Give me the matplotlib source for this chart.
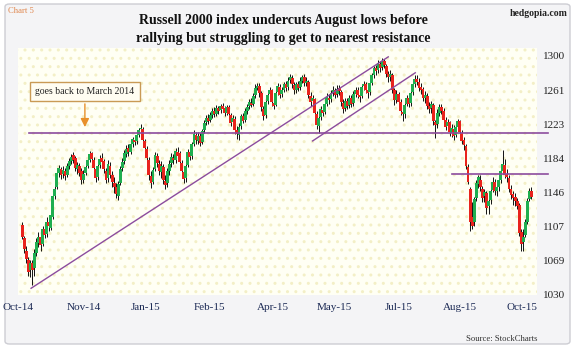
import numpy as np
import matplotlib
matplotlib.use("Agg")
import matplotlib.pyplot as plt
from matplotlib.patches import Rectangle, FancyBboxPatch

# daily candles, Oct-2014 .. Oct-2015
opens = [1109, 1094, 1080, 1070, 1058, 1066, 1060, 1078, 1089, 1095, 1088, 1104, 1099, 1112, 1106, 1118, 1142, 1152,
         1168, 1172, 1167, 1170, 1165, 1176, 1181, 1188, 1185, 1172, 1176, 1170, 1160, 1168, 1176, 1183, 1190, 1183,
         1172, 1163, 1177, 1185, 1181, 1170, 1162, 1176, 1165, 1157, 1152, 1142, 1157, 1173, 1181, 1189, 1196, 1191,
         1200, 1205, 1204, 1211, 1217, 1218, 1204, 1195, 1183, 1164, 1158, 1172, 1187, 1178, 1169, 1175, 1159, 1156,
         1170, 1179, 1185, 1182, 1192, 1190, 1179, 1169, 1162, 1177, 1191, 1187, 1201, 1211, 1204, 1210, 1203, 1216,
         1225, 1230, 1228, 1233, 1238, 1235, 1241, 1239, 1243, 1241, 1236, 1242, 1233, 1225, 1229, 1216, 1211, 1221,
         1232, 1228, 1238, 1243, 1247, 1246, 1256, 1264, 1266, 1258, 1240, 1233, 1249, 1257, 1261, 1247, 1245, 1259,
         1265, 1257, 1262, 1268, 1265, 1273, 1275, 1267, 1262, 1268, 1265, 1272, 1276, 1270, 1271, 1255, 1249, 1251,
         1235, 1221, 1231, 1239, 1237, 1246, 1253, 1251, 1258, 1262, 1257, 1264, 1259, 1247, 1241, 1249, 1245, 1252,
         1247, 1257, 1262, 1256, 1255, 1266, 1268, 1262, 1259, 1270, 1278, 1286, 1284, 1291, 1287, 1294, 1289, 1280,
         1276, 1279, 1262, 1250, 1257, 1248, 1237, 1235, 1246, 1252, 1247, 1259, 1268, 1274, 1271, 1265, 1263, 1252,
         1255, 1244, 1241, 1245, 1225, 1223, 1236, 1242, 1238, 1228, 1221, 1225, 1213, 1218, 1211, 1220, 1226, 1213,
         1205, 1198, 1175, 1150, 1118, 1112, 1140, 1155, 1160, 1150, 1142, 1145, 1130, 1137, 1149, 1158, 1148, 1152,
         1160, 1170, 1177, 1167, 1162, 1150, 1144, 1141, 1136, 1132, 1101, 1090, 1098, 1112, 1139, 1147]
highs = [1112, 1097, 1085, 1073, 1070, 1070, 1082, 1094, 1101, 1098, 1108, 1112, 1118, 1120, 1124, 1146, 1155, 1172,
         1177, 1175, 1176, 1174, 1179, 1185, 1189, 1191, 1187, 1180, 1179, 1173, 1171, 1179, 1186, 1193, 1192, 1186,
         1175, 1180, 1188, 1190, 1184, 1174, 1182, 1180, 1170, 1163, 1157, 1159, 1176, 1185, 1194, 1199, 1200, 1204,
         1209, 1210, 1214, 1219, 1223, 1220, 1206, 1198, 1186, 1170, 1175, 1191, 1190, 1182, 1181, 1178, 1166, 1173,
         1182, 1190, 1189, 1196, 1197, 1193, 1182, 1172, 1179, 1195, 1196, 1203, 1216, 1214, 1214, 1213, 1218, 1228,
         1233, 1234, 1237, 1241, 1242, 1245, 1244, 1246, 1247, 1244, 1245, 1245, 1236, 1233, 1232, 1221, 1224, 1235,
         1236, 1241, 1246, 1251, 1252, 1258, 1268, 1270, 1269, 1260, 1244, 1252, 1260, 1265, 1263, 1252, 1261, 1270,
         1268, 1265, 1271, 1272, 1276, 1280, 1278, 1271, 1271, 1272, 1276, 1279, 1280, 1276, 1273, 1259, 1256, 1253,
         1238, 1233, 1243, 1244, 1249, 1258, 1257, 1262, 1266, 1264, 1267, 1267, 1262, 1251, 1253, 1252, 1256, 1256,
         1260, 1265, 1265, 1259, 1268, 1272, 1271, 1266, 1273, 1281, 1289, 1290, 1295, 1294, 1298, 1297, 1291, 1283,
         1284, 1281, 1264, 1262, 1259, 1251, 1241, 1250, 1256, 1256, 1261, 1271, 1278, 1278, 1275, 1269, 1265, 1260,
         1258, 1248, 1249, 1247, 1228, 1240, 1246, 1246, 1241, 1231, 1229, 1227, 1223, 1222, 1224, 1229, 1228, 1216,
         1209, 1200, 1178, 1152, 1135, 1141, 1160, 1166, 1165, 1153, 1150, 1148, 1140, 1152, 1163, 1161, 1158, 1164,
         1172, 1194, 1184, 1172, 1165, 1154, 1148, 1145, 1140, 1134, 1105, 1104, 1116, 1140, 1151, 1152]
lows = [1093, 1078, 1066, 1052, 1050, 1041, 1052, 1074, 1084, 1080, 1085, 1094, 1096, 1102, 1103, 1116, 1138, 1150,
        1163, 1161, 1162, 1160, 1163, 1172, 1178, 1179, 1170, 1167, 1164, 1155, 1157, 1165, 1173, 1180, 1180, 1170,
        1158, 1160, 1173, 1176, 1168, 1156, 1158, 1162, 1152, 1145, 1140, 1137, 1154, 1170, 1178, 1186, 1187, 1189,
        1197, 1199, 1201, 1208, 1212, 1202, 1190, 1180, 1160, 1151, 1155, 1170, 1175, 1166, 1162, 1155, 1150, 1152,
        1166, 1175, 1178, 1179, 1183, 1176, 1166, 1156, 1158, 1175, 1182, 1184, 1198, 1200, 1201, 1198, 1200, 1213,
        1222, 1223, 1225, 1230, 1231, 1232, 1235, 1236, 1237, 1232, 1233, 1230, 1221, 1220, 1212, 1206, 1205, 1218,
        1224, 1225, 1235, 1240, 1242, 1243, 1253, 1261, 1254, 1238, 1228, 1230, 1246, 1253, 1244, 1240, 1243, 1256,
        1252, 1254, 1259, 1260, 1262, 1270, 1264, 1257, 1258, 1260, 1262, 1269, 1266, 1266, 1252, 1243, 1244, 1232,
        1218, 1213, 1228, 1232, 1234, 1243, 1246, 1248, 1255, 1252, 1254, 1256, 1244, 1236, 1238, 1240, 1241, 1242,
        1244, 1254, 1252, 1248, 1252, 1262, 1258, 1252, 1256, 1267, 1275, 1279, 1281, 1282, 1284, 1286, 1276, 1271,
        1272, 1258, 1245, 1247, 1243, 1233, 1227, 1230, 1243, 1242, 1244, 1256, 1265, 1267, 1260, 1257, 1249, 1247,
        1240, 1236, 1236, 1222, 1207, 1219, 1232, 1234, 1224, 1216, 1215, 1210, 1208, 1205, 1208, 1216, 1210, 1200,
        1194, 1172, 1155, 1102, 1104, 1108, 1136, 1151, 1148, 1135, 1135, 1122, 1122, 1133, 1146, 1143, 1142, 1148,
        1156, 1167, 1162, 1158, 1146, 1138, 1132, 1130, 1127, 1097, 1080, 1080, 1095, 1110, 1136, 1138]
closes = [1096, 1082, 1071, 1056, 1066, 1058, 1078, 1090, 1096, 1086, 1104, 1098, 1112, 1108, 1120, 1142, 1150, 1168,
          1173, 1166, 1171, 1164, 1176, 1181, 1186, 1183, 1173, 1177, 1168, 1160, 1167, 1175, 1183, 1189, 1184, 1174,
          1162, 1176, 1184, 1180, 1172, 1160, 1178, 1166, 1158, 1152, 1144, 1155, 1172, 1180, 1190, 1195, 1192, 1200,
          1206, 1203, 1211, 1216, 1219, 1205, 1196, 1185, 1165, 1156, 1171, 1188, 1179, 1170, 1176, 1160, 1154, 1170,
          1178, 1186, 1182, 1193, 1187, 1180, 1170, 1161, 1176, 1192, 1186, 1200, 1212, 1205, 1210, 1202, 1215, 1224,
          1230, 1227, 1233, 1238, 1234, 1241, 1238, 1243, 1240, 1236, 1242, 1234, 1224, 1230, 1216, 1212, 1220, 1232,
          1227, 1238, 1242, 1248, 1245, 1255, 1264, 1266, 1258, 1242, 1232, 1248, 1256, 1262, 1248, 1244, 1258, 1266,
          1256, 1262, 1268, 1264, 1272, 1276, 1268, 1261, 1268, 1264, 1272, 1276, 1270, 1272, 1256, 1248, 1252, 1236,
          1222, 1230, 1240, 1236, 1246, 1254, 1250, 1258, 1262, 1256, 1263, 1260, 1248, 1240, 1249, 1244, 1252, 1246,
          1257, 1262, 1256, 1254, 1265, 1268, 1262, 1258, 1270, 1278, 1286, 1283, 1292, 1286, 1294, 1290, 1280, 1276,
          1280, 1262, 1250, 1257, 1248, 1238, 1234, 1245, 1252, 1246, 1258, 1268, 1274, 1271, 1264, 1262, 1253, 1256,
          1244, 1240, 1246, 1226, 1222, 1236, 1242, 1238, 1228, 1220, 1225, 1214, 1219, 1210, 1220, 1226, 1214, 1204,
          1199, 1176, 1158, 1112, 1108, 1138, 1156, 1163, 1152, 1140, 1146, 1128, 1136, 1148, 1158, 1147, 1152, 1160,
          1170, 1178, 1166, 1163, 1150, 1143, 1140, 1136, 1131, 1100, 1088, 1096, 1112, 1136, 1148, 1141]

ytick_labels = ["1030", "1069", "1107", "1146", "1184", "1223", "1261", "1300"]
month_labels = ["Oct-14", "Nov-14", "Jan-15", "Feb-15", "Apr-15", "May-15", "Jul-15", "Aug-15", "Oct-15"]
month_pos = [-2, 30, 60.5, 91.7, 122.4, 152.7, 184, 214, 244.4]

resist_1 = 1213      # goes back to March 2014
resist_2 = 1166.5
trend_long = [(4.4, 1037.6), (179, 1299)]
trend_short = [(142, 1204), (192.2, 1281)]

GREEN = "#1fae50"
RED = "#e8231d"
PURPLE = "#8c4c9e"
SERIF = "Liberation Serif"

fig = plt.figure(figsize=(5.74, 3.53), dpi=100)
fig.patch.set_facecolor("white")
fig.patches.append(FancyBboxPatch((5 / 574, 9 / 353), 565 / 574, 340 / 353,
                                  boxstyle="round,pad=0,rounding_size=0.008",
                                  transform=fig.transFigure, fc="#f4f4f6", ec="#cdcdd3", lw=1.0, zorder=-10))

ax = fig.add_axes([18 / 574, 58 / 353, 519 / 574, 247 / 353])
ax.set_facecolor("none")
ax.add_patch(Rectangle((0, 0), 1, 1, transform=ax.transAxes, fc="#fffff4", ec="#f3efc6",
                       lw=0, hatch="..", zorder=-5))
for s in ax.spines.values():
    s.set_visible(False)

o = np.array(opens)
h = np.array(highs)
l = np.array(lows)
c = np.array(closes)
x = np.arange(len(c))
up = c >= o
colors = np.where(up, GREEN, RED)

ax.vlines(x, l, h, color="#111111", lw=0.7, zorder=2)
ax.bar(x, np.maximum(np.abs(c - o), 1.0), bottom=np.minimum(o, c), width=1.4,
       color=colors, edgecolor="none", zorder=3)

# support / resistance lines
ax.plot([3.4, 257], [resist_1, resist_1], color=PURPLE, lw=1.2, zorder=4, clip_on=False)
ax.plot([210.2, 257], [resist_2, resist_2], color=PURPLE, lw=1.2, zorder=4, clip_on=False)
ax.plot([p[0] for p in trend_long], [p[1] for p in trend_long], color=PURPLE, lw=1.0, zorder=4)
ax.plot([p[0] for p in trend_short], [p[1] for p in trend_short], color=PURPLE, lw=1.0, zorder=4)

ax.text(30.7, 1259.8, "goes back to March 2014", ha="center", va="center", fontsize=7,
        family=SERIF, color="#222222", zorder=6,
        bbox=dict(boxstyle="square,pad=0.55", fc="#fffdf2", ec="#c99a55", lw=1.0))
ax.annotate("", xy=(30.7, 1216.5), xytext=(30.7, 1249),
            arrowprops=dict(arrowstyle="-|>,head_length=0.5,head_width=0.25", color="#e8902a", lw=1.0),
            zorder=6)

ax.set_xlim(-1.46, 251.7)
ax.set_ylim(1030, 1309)
ax.yaxis.tick_right()
ax.set_yticks(np.linspace(1030, 1300, 8))
ax.set_yticklabels(ytick_labels, family=SERIF, fontsize=8, color="#222222")
ax.set_xticks(month_pos)
ax.set_xticklabels(month_labels, family=SERIF, fontsize=8, color="#1c2a55")
ax.tick_params(axis="y", length=0, pad=4.5)
ax.tick_params(axis="x", length=0, pad=6)
for lab in ax.get_xticklabels():
    lab.set_clip_on(False)

fig.text(0.493, 0.943, "Russell 2000 index undercuts August lows before", ha="center", va="center",
         fontsize=10, fontweight="bold", family=SERIF, color="#111111")
fig.text(0.493, 0.892, "rallying but struggling to get to nearest resistance", ha="center", va="center",
         fontsize=10, fontweight="bold", family=SERIF, color="#111111")
fig.text(0.014, 0.969, "Chart 5", ha="left", va="center", fontsize=6.2, family=SERIF, color="#e0874e")
fig.text(0.9895, 0.963, "hedgopia.com", ha="right", va="center", fontsize=7, fontweight="bold",
         family=SERIF, color="#222222")
fig.text(0.937, 0.040, "Source: StockCharts", ha="right", va="center", fontsize=6.2, family=SERIF,
         color="#333333")

fig.savefig("out.png", dpi=100)
